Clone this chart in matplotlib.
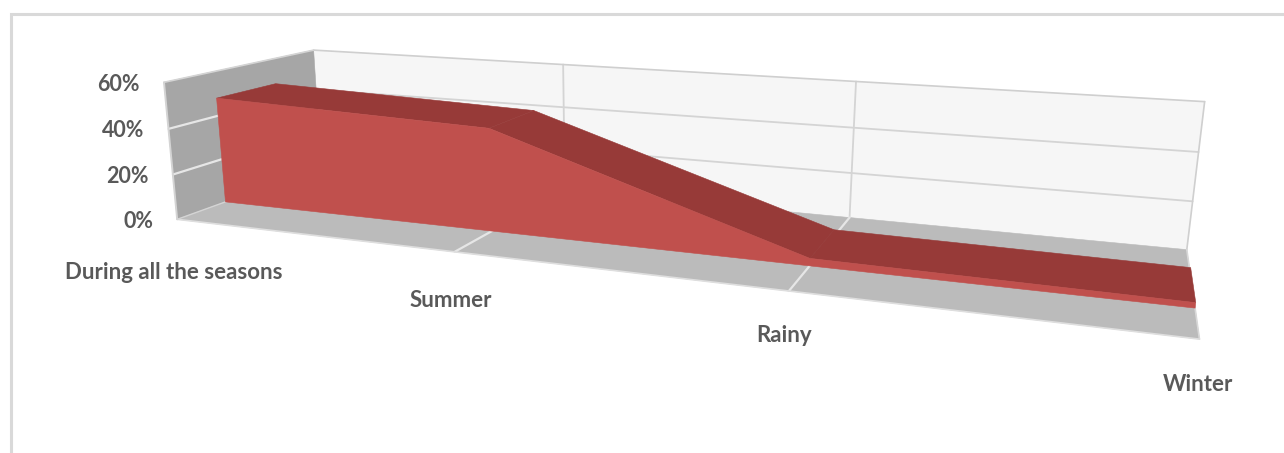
import numpy as np
import matplotlib
matplotlib.use("Agg")
import matplotlib.pyplot as plt
from matplotlib.patches import Polygon

plt.rcParams['font.family'] = ['Lato', 'DejaVu Sans']

categories = ["During all the seasons", "Summer", "Rainy", "Winter"]
values = [48, 44, 3, 2]
y_ticks = [0, 20, 40, 60]
y_tick_labels = ["0%", "20%", "40%", "60%"]

# excel style perspective box: (u along categories, d depth, v height) -> pixel
box_pts = [
    (0, 0, 0, 178, 220), (0, 0, 1, 162, 82), (0, 1, 1, 316, 50), (0, 1, 0, 319, 168),
    (1, 1, 0, 1187, 249), (1, 1, 1, 1205, 101), (1, 0, 0, 1199, 342),
    (1/3, 1, 1, 563, 65), (2/3, 1, 1, 855, 82), (2/3, 1, 0, 850, 217),
    (1/3, 0, 0, 457, 250), (2/3, 0, 0, 788, 290),
]


def fit_camera(pts):
    rows = []
    rhs = []
    for u, d, v, px, py in pts:
        rows.append([u, d, v, 1, 0, 0, 0, 0, -px*u, -px*d, -px*v])
        rhs.append(px)
        rows.append([0, 0, 0, 0, u, d, v, 1, -py*u, -py*d, -py*v])
        rhs.append(py)
    sol = np.linalg.lstsq(np.array(rows, float), np.array(rhs, float), rcond=None)[0]
    return np.append(sol, 1).reshape(3, 4)


cam = fit_camera(box_pts)


def proj(u, d, v):
    p = cam @ np.array([u, d, v, 1.0])
    return p[0]/p[2], p[1]/p[2]


y_max = y_ticks[-1]
n = len(categories)
u_pos = [i/(n-1) for i in range(n)]
d_front, d_back = 0.30, 0.70

fig = plt.figure(figsize=(12.84, 4.53), dpi=100)
ax = fig.add_axes([0, 0, 1, 1])
ax.set_xlim(0, 1284)
ax.set_ylim(453, 0)
ax.axis('off')

# chart frame
ax.plot([11, 11, 1284], [453, 13.5, 13.5], color='#d9d9d9', lw=2.2, solid_joinstyle='miter')


def quad(pts, color, z):
    ax.add_patch(Polygon([proj(*p) for p in pts], closed=True, fc=color, ec=color, lw=0.4, zorder=z))


def seg(a, b, color, lw, z):
    pa, pb = proj(*a), proj(*b)
    ax.plot([pa[0], pb[0]], [pa[1], pb[1]], color=color, lw=lw, zorder=z, solid_capstyle='round')


# walls and floor
quad([(0, 1, 0), (1, 1, 0), (1, 1, 1), (0, 1, 1)], '#f6f6f6', 1)
quad([(0, 0, 0), (0, 1, 0), (0, 1, 1), (0, 0, 1)], '#a6a6a6', 2)
quad([(0, 0, 0), (1, 0, 0), (1, 1, 0), (0, 1, 0)], '#bbbbbb', 2)

# gridlines
for t in y_ticks[1:-1]:
    v = t/y_max
    seg((0, 1, v), (1, 1, v), '#d4d4d4', 1.3, 3)
    seg((0, 0, v), (0, 1, v), '#e6e6e6', 1.6, 3)
for u in u_pos[1:-1]:
    seg((u, 1, 0), (u, 1, 1), '#d4d4d4', 1.3, 3)
    seg((u, 0, 0), (u, 1, 0), '#e6e6e6', 1.6, 3)

# box edges
seg((0, 1, 1), (1, 1, 1), '#cfcfcf', 1.2, 4)
seg((1, 1, 1), (1, 1, 0), '#cfcfcf', 1.2, 4)
seg((1, 1, 0), (1, 0, 0), '#d8d8d8', 1.2, 4)
seg((1, 0, 0), (0, 0, 0), '#dedede', 1.2, 4)
seg((0, 0, 0), (0, 0, 1), '#d4d4d4', 1.4, 4)
seg((0, 0, 1), (0, 1, 1), '#d4d4d4', 1.2, 4)
seg((0, 0, 0), (0, 1, 0), '#d4d4d4', 1.0, 4)

# area: top faces first, then the front face
for i in range(n-1):
    v0, v1 = values[i]/y_max, values[i+1]/y_max
    quad([(u_pos[i], d_front, v0), (u_pos[i+1], d_front, v1),
          (u_pos[i+1], d_back, v1), (u_pos[i], d_back, v0)], '#973a38', 5)
front = [(u, d_front, val/y_max) for u, val in zip(u_pos, values)]
front += [(1, d_front, 0), (0, d_front, 0)]
quad(front, '#c0504d', 6)

# tick labels
label_col = '#595959'
for t, lab in zip(y_ticks, y_tick_labels):
    px, py = proj(0, 0, t/y_max)
    ax.text(px-24, py+8.5, lab, ha='right', va='baseline', fontsize=15.5, fontweight='bold', color=label_col)

cat_dx = [-3, -4, -5, -1]
cat_dy = [60, 55, 51, 52]
for u, lab, dx, dy in zip(u_pos, categories, cat_dx, cat_dy):
    px, py = proj(u, 0, 0)
    ax.text(px+dx, py+dy, lab, ha='center', va='baseline', fontsize=16, fontweight='bold', color=label_col)

fig.savefig('out.png', dpi=100)
